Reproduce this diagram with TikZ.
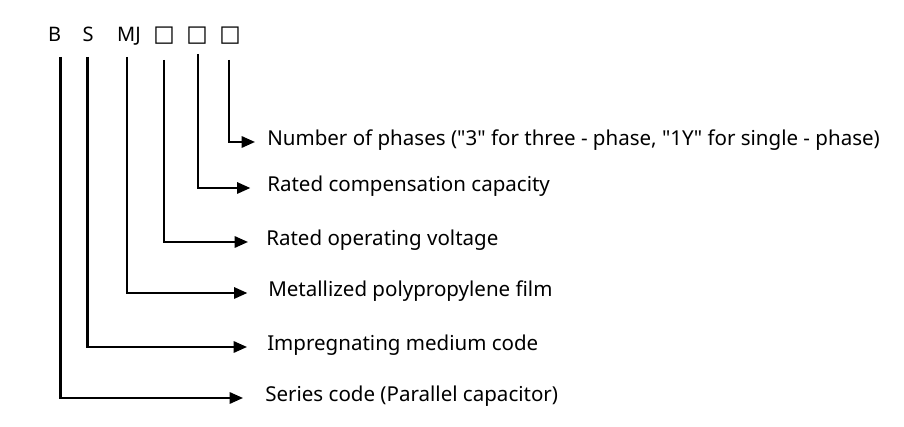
\documentclass[tikz,border=0pt]{standalone}
\usepackage{fontspec}
\setmainfont{Noto Sans}[Ligatures=TeXOff]
\newfontfamily\boxfont{DejaVu Sans}
\usetikzlibrary{arrows.meta}
\tikzset{
	codepart/.style={anchor=base, inner sep=0pt, font=\fontsize{15}{18}\selectfont},
	boxpart/.style={anchor=base, inner sep=0pt, font=\boxfont\fontsize{17}{20}\selectfont},
	meaning/.style={anchor=west, inner sep=0pt, text height=.75em, text depth=.25em,
		font=\fontsize{15.4}{18}\selectfont},
	lead/.style={line width=1.6pt, -{Triangle[length=10pt,width=8.5pt]}}
}

\begin{document}
\begin{tikzpicture}[x=0.75pt, y=-0.75pt]
			\useasboundingbox (0, 0) rectangle (904, 427);
			% model code
			\node[codepart] (b) at (54.5, 42) {B};
			\node[codepart] (s) at (88, 42) {S};
			\node[codepart] (mj) at (129, 42) {MJ};
			\node[boxpart] (q1) at (164, 42) {□};
			\node[boxpart] (q2) at (197, 42) {□};
			\node[boxpart] (q3) at (230, 42) {□};
			% where the leads start
			\coordinate (b-top) at (60.5, 57);
			\coordinate (s-top) at (87.5, 57);
			\coordinate (mj-top) at (127, 57);
			\coordinate (q1-top) at (164, 60);
			\coordinate (q2-top) at (198, 54);
			\coordinate (q3-top) at (229, 60);
			% meanings
			\node[meaning] (phases) at (267, 142) {Number of phases ("3" for three - phase, "1Y" for single - phase)};
			\node[meaning] (capacity) at (267, 188) {Rated compensation capacity};
			\node[meaning] (voltage) at (266, 242) {Rated operating voltage};
			\node[meaning] (film) at (268, 293) {Metallized polypropylene film};
			\node[meaning] (medium) at (267, 347) {Impregnating medium code};
			\node[meaning] (series) at (265, 398) {Series code (Parallel capacitor)};
			% leads
			\draw[lead, shorten >=9pt] (q3-top) |- (phases.west);
			\draw[lead, shorten >=12.5pt] (q2-top) |- (capacity.west);
			\draw[lead, shorten >=13.5pt] (q1-top) |- (voltage.west);
			\draw[lead, shorten >=15.5pt] (mj-top) |- (film.west);
			\draw[lead, shorten >=15pt] (s-top) |- (medium.west);
			\draw[lead, shorten >=16.5pt] (b-top) |- (series.west);
		\end{tikzpicture}
\end{document}
